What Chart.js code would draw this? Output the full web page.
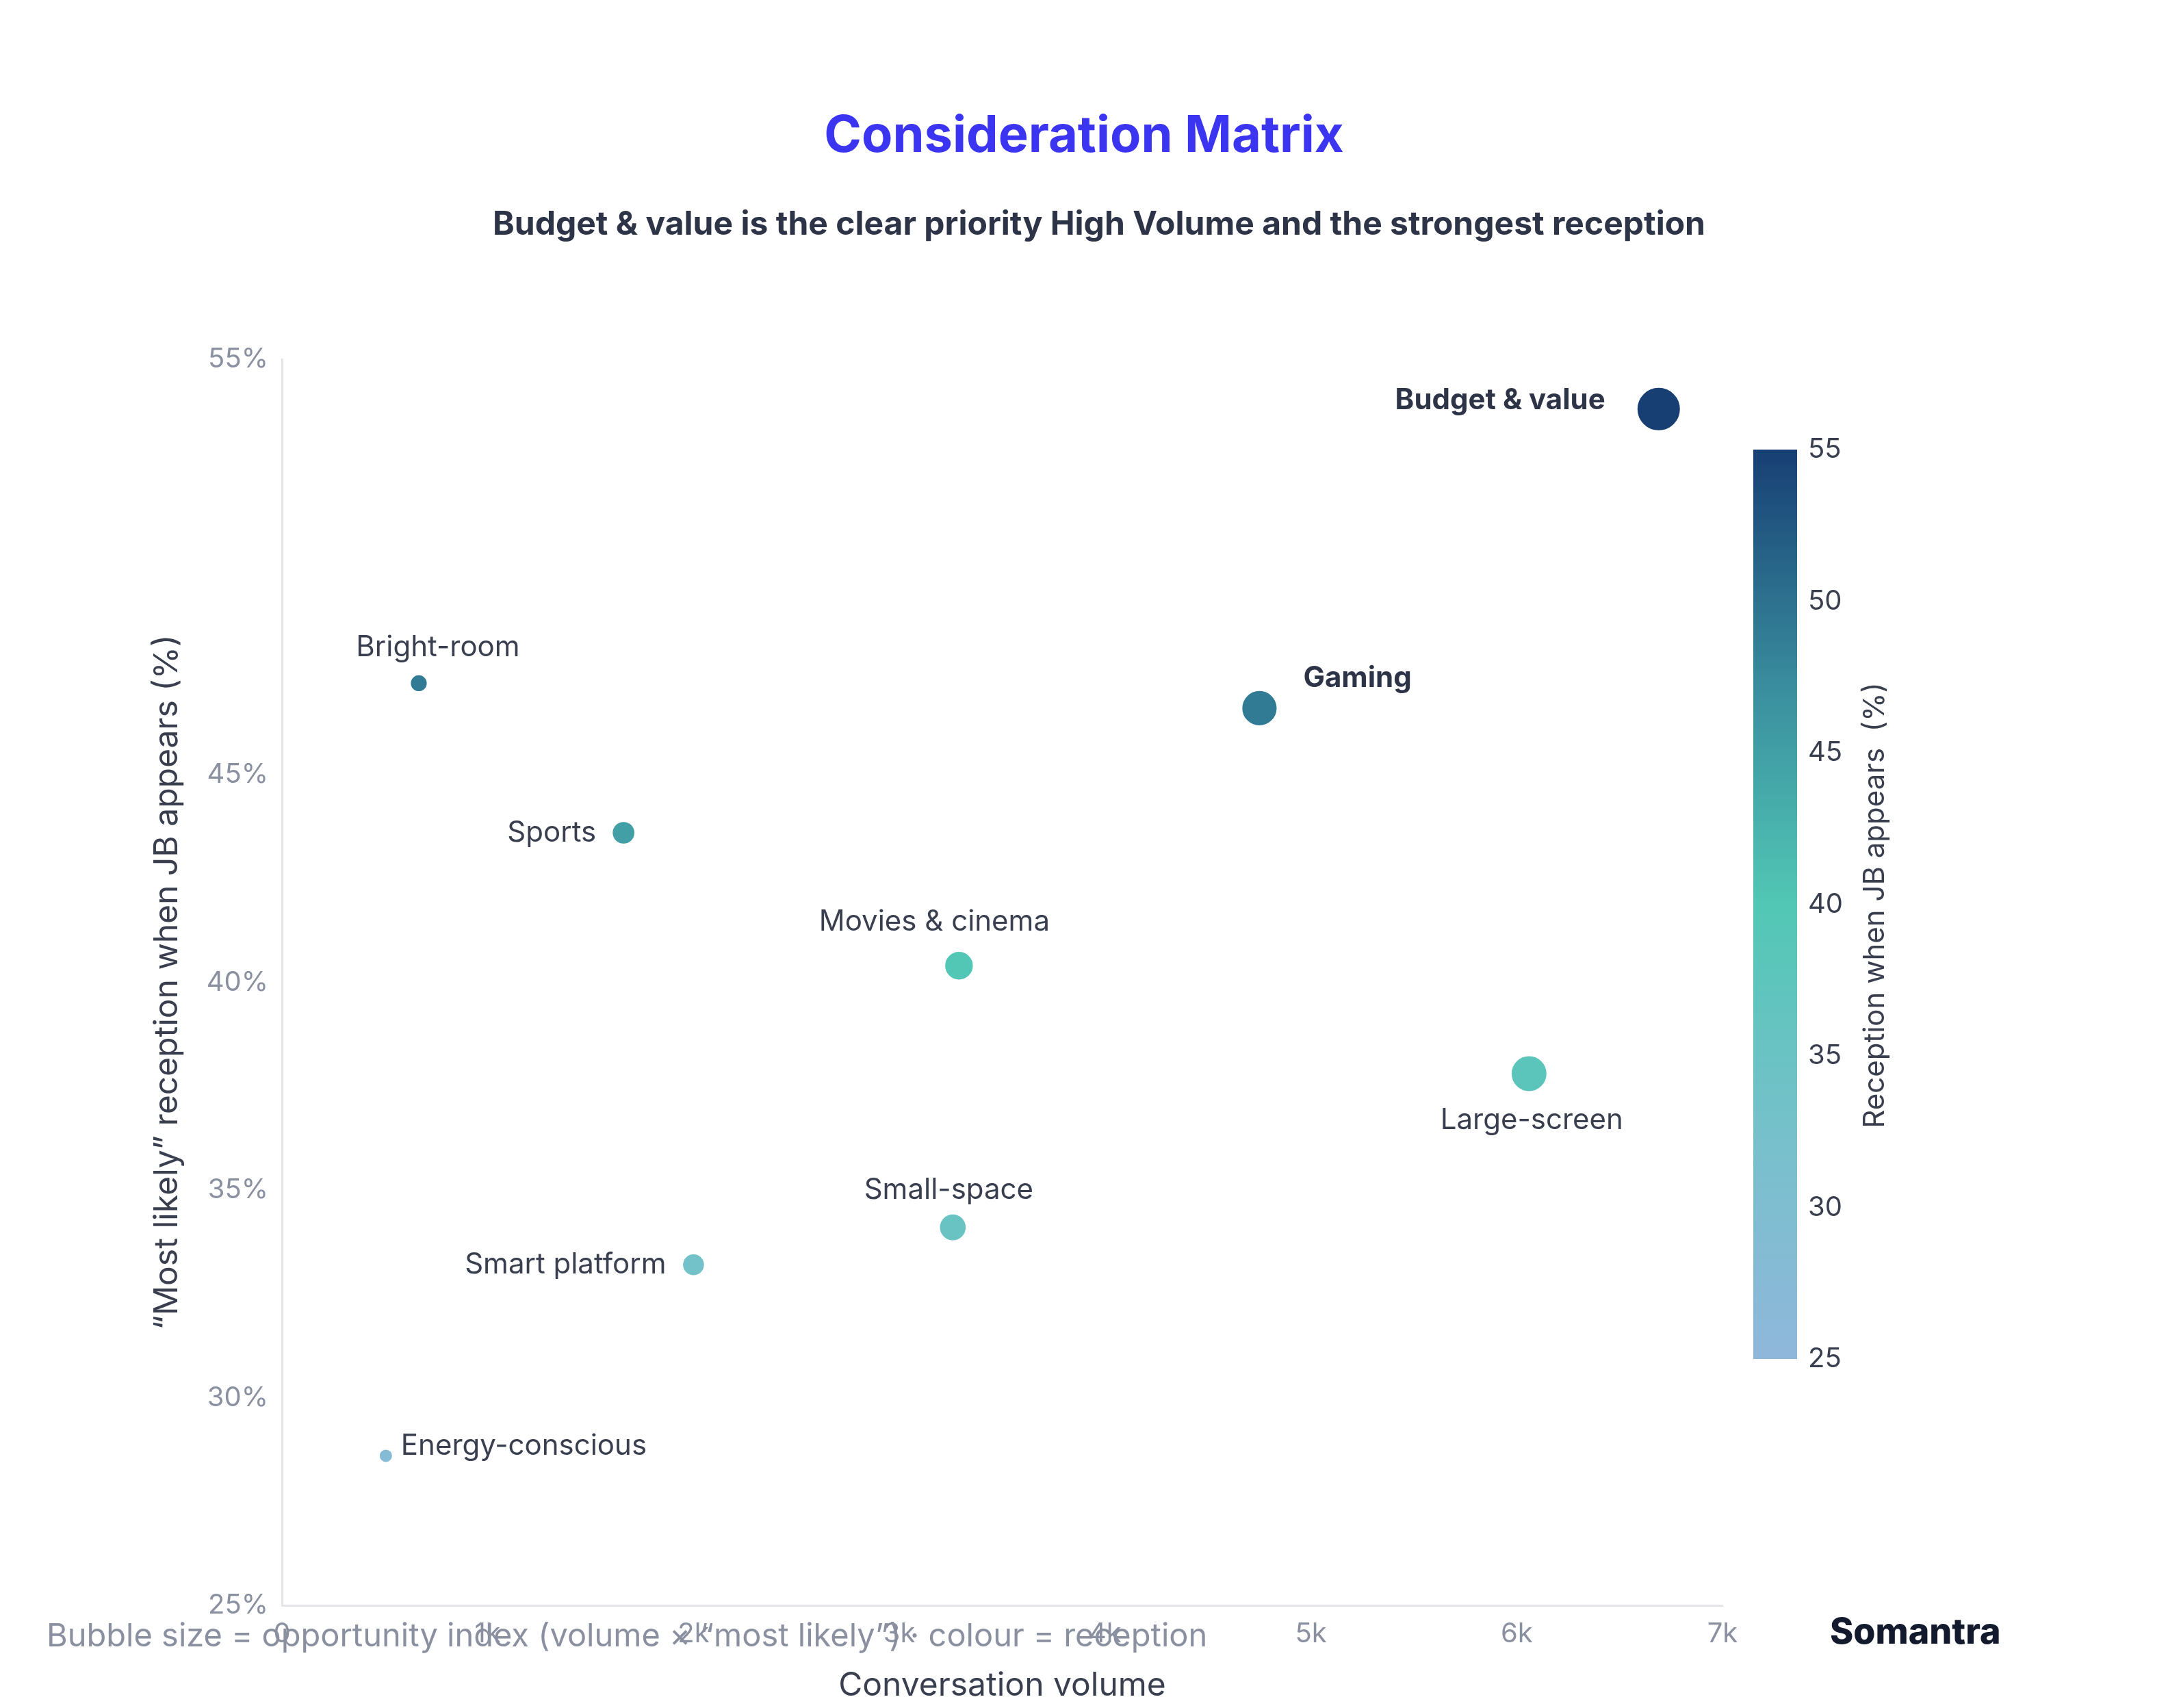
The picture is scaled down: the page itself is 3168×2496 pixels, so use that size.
<!DOCTYPE html>
<html>
<head>
<meta charset="utf-8">
<script src="https://cdn.jsdelivr.net/npm/chart.js@4.4.1/dist/chart.umd.min.js"></script>
<style>
  html, body { margin: 0; padding: 0; background: #fff; }
  #wrap { position: relative; width: 3168px; height: 2496px; font-family: Inter, "Open Sans", sans-serif; }
  canvas { position: absolute; left: 0; top: 0; }
  .t { position: absolute; white-space: nowrap; }
  #title { left: 0; width: 3168px; top: 150px; text-align: center; font-size: 74px; font-weight: 700; color: #3b35f2; }
  #sub { left: 0; width: 3168px; top: 296px; text-align: center; font-size: 48px; font-weight: 700; color: #2e3447; padding-left: 44px; box-sizing: border-box; }
  #foot { left: 68px; top: 2360px; font-size: 47px; color: #8a90a0; }
  #brand { left: 2674px; top: 2352px; font-size: 52px; font-weight: 800; color: #141a2e; }
</style>
</head>
<body>
<div id="wrap">
  <canvas id="c" width="3168" height="2496"></canvas>
  <div class="t" id="title">Consideration Matrix</div>
  <div class="t" id="sub">Budget &amp; value is the clear priority High Volume and the strongest reception</div>
  <div class="t" id="foot">Bubble size = opportunity index (volume × “most likely”) · colour = reception</div>
  <div class="t" id="brand">Somantra</div>
</div>
<script>
// data
const segments = ["Budget & value", "Gaming", "Bright-room", "Sports", "Movies & cinema", "Large-screen", "Small-space", "Smart platform", "Energy-conscious"];
const volume = [6690, 4750, 665, 1660, 3290, 6060, 3260, 2000, 505];
const mostLikely = [53.8, 46.6, 47.2, 43.6, 40.4, 37.8, 34.1, 33.2, 28.6];
const reception = [55, 49, 49, 45, 40, 38, 35, 33, 28];
const xTicks = [0, 1000, 2000, 3000, 4000, 5000, 6000, 7000];
const yTickLabels = [25, 30, 35, 40, 45, 55];
const cbTicks = [25, 30, 35, 40, 45, 50, 55];

// label layout: [dx, dy, align, bold]
const labelLayout = [
  [-78, -12, "right", true],
  [64, -44, "left", true],
  [28, -52, "center", false],
  [-40, 0, "right", false],
  [-36, -64, "center", false],
  [4, 68, "center", false],
  [-6, -54, "center", false],
  [-40, 0, "right", false],
  [22, -14, "left", false],
];

const stops = [[25, [143, 183, 219]], [32, [120, 192, 204]], [40, [82, 199, 181]], [47, [58, 143, 159]], [55, [23, 63, 116]]];
function colorFor(v) {
  for (let i = 1; i < stops.length; i++) {
    if (v <= stops[i][0]) {
      const [a, ca] = stops[i - 1], [b, cb] = stops[i];
      const t = (v - a) / (b - a);
      const c = ca.map((x, k) => Math.round(x + (cb[k] - x) * t));
      return `rgb(${c.join(",")})`;
    }
  }
  return "rgb(23,63,116)";
}

const opp = volume.map((v, i) => Math.sqrt(v * mostLikely[i] / 100));
const oMin = Math.min(...opp), oMax = Math.max(...opp);
const radius = (i) => 10 + 22 * (opp[i] - oMin) / (oMax - oMin);

const textColor = "#3a3f50";
const tickGray = "#8a90a0";

const labelsPlugin = {
  id: "labels",
  afterDatasetsDraw(chart) {
    const ctx = chart.ctx;
    const meta = chart.getDatasetMeta(0);
    ctx.save();
    ctx.textBaseline = "middle";
    meta.data.forEach((pt, i) => {
      const [dx, dy, align, bold] = labelLayout[i];
      ctx.font = (bold ? "700 " : "400 ") + "42px Inter, sans-serif";
      ctx.fillStyle = bold ? "#2e3447" : textColor;
      ctx.textAlign = align;
      ctx.fillText(segments[i], pt.x + dx, pt.y + dy);
    });
    ctx.restore();
  },
};

const colorbarPlugin = {
  id: "colorbar",
  afterDraw(chart) {
    const ctx = chart.ctx;
    const x0 = 2562, w = 64, top = 657, bot = 1986;
    const g = ctx.createLinearGradient(0, bot, 0, top);
    stops.forEach(([v]) => g.addColorStop((v - 25) / 30, colorFor(v)));
    ctx.save();
    ctx.fillStyle = g;
    ctx.fillRect(x0, top, w, bot - top);
    ctx.font = "40px Inter, sans-serif";
    ctx.fillStyle = textColor;
    ctx.textAlign = "left";
    ctx.textBaseline = "middle";
    cbTicks.forEach((v) => {
      const y = bot - (v - 25) / 30 * (bot - top);
      ctx.fillText(String(v), x0 + w + 16, y);
    });
    ctx.translate(2740, 1323);
    ctx.rotate(-Math.PI / 2);
    ctx.textAlign = "center";
    ctx.font = "42px Inter, sans-serif";
    ctx.fillText("Reception when JB appears  (%)", 0, 0);
    ctx.restore();
  },
};

new Chart(document.getElementById("c"), {
  type: "bubble",
  data: {
    datasets: [{
      data: volume.map((v, i) => ({ x: v, y: mostLikely[i] })),
      backgroundColor: reception.map(colorFor),
      borderColor: "#ffffff",
      borderWidth: 2,
      radius: (c) => radius(c.dataIndex),
      hoverRadius: 0,
    }],
  },
  options: {
    responsive: false,
    animation: false,
    layout: { padding: { left: 212, top: 525, right: 651, bottom: 0 } },
    plugins: { legend: { display: false }, tooltip: { enabled: false } },
    scales: {
      x: {
        type: "linear", min: 0, max: 7000,
        afterBuildTicks: (s) => { s.ticks = xTicks.map((v) => ({ value: v })); },
        afterFit: (s) => { s.height = 150; },
        grid: { display: false },
        border: { color: "#e3e5ea", width: 3 },
        ticks: { color: tickGray, font: { size: 40, family: "Inter" }, padding: 10,
          callback: (v) => (v === 0 ? "0" : v / 1000 + "k") },
        title: { display: true, text: "Conversation volume", color: textColor,
          font: { size: 48, family: "Inter" }, padding: { top: 30 } },
      },
      y: {
        type: "linear", min: 25, max: 55,
        afterBuildTicks: (s) => { s.ticks = yTickLabels.map((v) => ({ value: v })); },
        afterFit: (s) => { s.width = 200; },
        grid: { display: false },
        border: { color: "#e3e5ea", width: 3, dash: [10, 6] },
        ticks: { color: tickGray, font: { size: 40, family: "Inter" }, padding: 12,
          callback: (v) => v + "%" },
        title: { display: true, text: "“Most likely” reception when JB appears (%)", color: textColor,
          font: { size: 48, family: "Inter" }, padding: { bottom: 40 } },
      },
    },
  },
  plugins: [labelsPlugin, colorbarPlugin],
});
</script>
</body>
</html>
